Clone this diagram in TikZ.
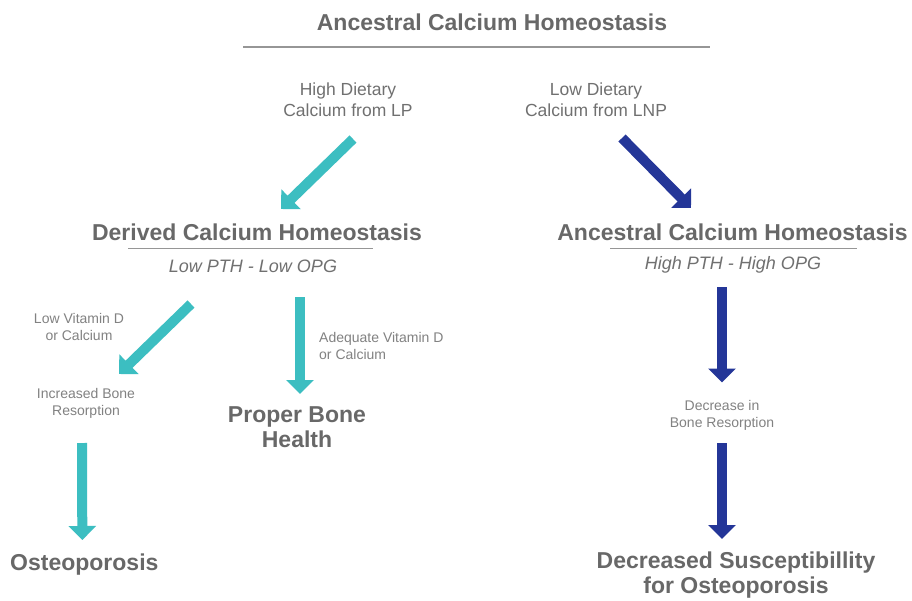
\documentclass[tikz,border=0pt]{standalone}
\usepackage{fontspec}
\setmainfont{Liberation Sans}
\usetikzlibrary{arrows.meta,calc}
\definecolor{tealc}{RGB}{60,190,193}
\definecolor{navyc}{RGB}{36,54,152}
\definecolor{headg}{RGB}{104,104,104}
\definecolor{midg}{RGB}{112,112,112}
\definecolor{smallg}{RGB}{130,130,130}
\definecolor{ruleg}{RGB}{150,150,150}
\begin{document}
\begin{tikzpicture}[x=1pt,y=-1pt,
  heading/.style={font=\fontsize{23}{25}\selectfont\bfseries, text=headg, inner sep=0pt, align=center},
  medtext/.style={font=\fontsize{17.5}{21.5}\selectfont, text=midg, inner sep=0pt, align=center},
  ittext/.style={font=\fontsize{18}{21}\selectfont\itshape, text=midg, inner sep=0pt},
  smalltext/.style={font=\fontsize{14}{17.5}\selectfont, text=smallg, inner sep=0pt, align=center},
  hrule/.style={draw=ruleg, line width=1.1pt},
  tealarr/.style={draw=tealc, line width=10pt, -{Triangle[length=14pt,width=27pt]}},
  navyarr/.style={draw=navyc, line width=10pt, -{Triangle[length=14pt,width=27pt]}}]
\useasboundingbox[fill=white] (0,0) rectangle (912,600);

% title
\node[heading] (title) at (492,22) {Ancestral Calcium Homeostasis};
\coordinate (trl) at (243,47);
\coordinate (trr) at (710,47);
\draw[hrule] (trl) -- (trr);

% dietary sources
\node[medtext] (hd) at (348,99.5) {High Dietary\\Calcium from LP};
\node[medtext] (ld) at (596,99.5) {Low Dietary\\Calcium from LNP};

% second level
\node[heading] (dch) at (257,232) {Derived Calcium Homeostasis};
\coordinate (dl1) at (128,248);
\coordinate (dl2) at (373,248);
\draw[hrule, line width=0.8pt] (dl1) -- (dl2);
\node[ittext] (lpth) at (253,266) {Low PTH - Low OPG};

\node[heading] (ach) at (732.5,232) {Ancestral Calcium Homeostasis};
\coordinate (al1) at (610,248);
\coordinate (al2) at (857,248);
\draw[hrule, line width=0.8pt] (al1) -- (al2);
\node[ittext] (hpth) at (733,265) {High PTH - High OPG};

% left branch
\node[smalltext] (lvd) at (79,327) {Low Vitamin D\\or Calcium};
\node[smalltext] (ibr) at (86,403.5) {Increased Bone\\Resorption};
\node[heading, anchor=west] (ost) at (10,565) {Osteoporosis};

% middle branch
\node[smalltext, align=left, anchor=west] (avd) at (319,346) {Adequate Vitamin D\\or Calcium};
\node[heading] (pbh) at (297,427) {Proper Bone\\Health};

% right branch
\node[smalltext] (dbr) at (722,415.5) {Decrease in\\Bone Resorption};
\node[heading] (dso) at (736,575.5) {Decreased Susceptibillity\\for Osteoporosis};

% arrows
\draw[tealarr] ($(hd.center)+(5,39.5)$) -- ($(dch.center)+(24,-23)$);
\draw[navyarr] ($(ld.center)+(26,38.5)$) -- ($(ach.center)+(-41.5,-24)$);
\draw[tealarr] ($(dch.center)+(-66,72)$) -- ($(ibr.center)+(33,-29.5)$);
\draw[tealarr] ($(dch.center)+(43,65)$) -- ($(pbh.center)+(3,-33)$);
\draw[tealarr] ($(ibr.center)+(-4,39.5)$) -- ($(ost.center)+(-2,-25)$);
\draw[navyarr] ($(ach.center)+(-10.5,55)$) -- ($(dbr.center)+(0,-33)$);
\draw[navyarr] ($(dbr.center)+(0,27.5)$) -- ($(dso.center)+(-14,-36.5)$);
\end{tikzpicture}
\end{document}
